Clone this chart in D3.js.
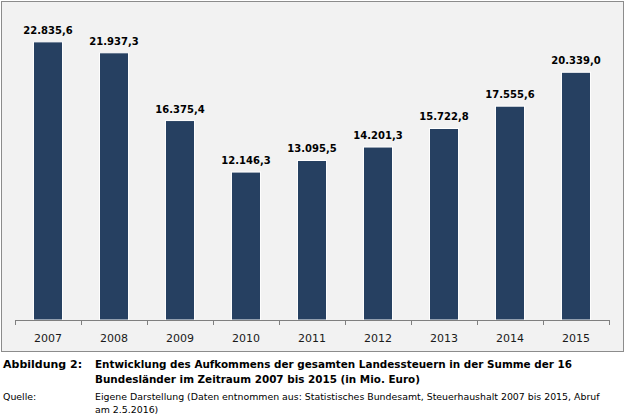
<!DOCTYPE html>
<html>
<head>
    <meta charset="utf-8">
    <title>Landessteuern 2007 bis 2015</title>
    <style>
        body { margin: 0; background: #fff; }
        text { font-family: "DejaVu Sans", Verdana, sans-serif; }
    </style>
</head>
<body>
<svg id="svg"></svg>
<script src="https://cdn.jsdelivr.net/npm/d3@7/dist/d3.min.js"></script>
<script>
    const years = ['2007', '2008', '2009', '2010', '2011', '2012', '2013', '2014', '2015']
    const values = [22835.6, 21937.3, 16375.4, 12146.3, 13095.5, 14201.3, 15722.8, 17555.6, 20339.0]

    const WIDTH = 626
    const HEIGHT = 419

    const svg = d3.select('svg')
        .attr('width', WIDTH)
        .attr('height', HEIGHT)

    // chart frame
    svg.append('rect')
        .attr('x', 1.5).attr('y', 1.5)
        .attr('width', 622).attr('height', 350)
        .attr('fill', '#f2f2f2')
        .attr('stroke', '#8c8c8c')
        .attr('stroke-width', 1)

    const x = d3.scaleBand()
        .domain(years)
        .range([15, 609])
        .paddingInner(0.56)
        .paddingOuter(0.28)

    const y = d3.scaleLinear()
        .domain([0, 25000])
        .range([320, 15.5])

    const fmt = (v) => {
        const s = v.toFixed(1).split('.')
        return s[0].replace(/\B(?=(\d{3})+(?!\d))/g, '.') + ',' + s[1]
    }

    svg.append('g')
        .selectAll('rect')
        .data(values)
        .enter().append('rect')
        .attr('x', (d, i) => x(years[i]))
        .attr('y', (d) => y(d))
        .attr('width', x.bandwidth())
        .attr('height', (d) => y(0) - y(d))
        .attr('fill', '#264061')
        .attr('stroke', '#ffffff')
        .attr('stroke-width', 1)

    svg.append('g')
        .selectAll('text')
        .data(values)
        .enter().append('text')
        .attr('x', (d, i) => x(years[i]) + x.bandwidth() / 2)
        .attr('y', (d) => y(d) - 8)
        .attr('text-anchor', 'middle')
        .attr('font-size', 10)
        .attr('font-weight', 'bold')
        .attr('fill', '#000')
        .text(fmt)

    // category axis, ticks sit between the bars
    const axis = svg.append('g')
        .attr('transform', 'translate(0,320)')
        .call(d3.axisBottom(x).tickSize(0).tickPadding(14))
    axis.select('.domain').remove()
    axis.selectAll('text')
        .attr('font-size', 11)
        .attr('font-family', '"DejaVu Sans", Verdana, sans-serif')
        .attr('fill', '#1a1a1a')

    const step = x.step()
    const bounds = years.map((yr) => x(yr) - (step - x.bandwidth()) / 2)
    bounds.push(bounds[bounds.length - 1] + step)

    svg.append('line')
        .attr('x1', bounds[0]).attr('x2', bounds[bounds.length - 1])
        .attr('y1', 320.5).attr('y2', 320.5)
        .attr('stroke', '#7f7f7f')
    svg.append('g')
        .selectAll('line')
        .data(bounds)
        .enter().append('line')
        .attr('x1', (d) => d + 0.5).attr('x2', (d) => d + 0.5)
        .attr('y1', 320).attr('y2', 325)
        .attr('stroke', '#7f7f7f')

    // caption
    const cap = svg.append('g').attr('font-weight', 'bold').attr('font-size', 10.4).attr('fill', '#000')
    cap.append('text').attr('x', 3).attr('y', 368).attr('font-size', 11).text('Abbildung 2:')
    cap.append('text').attr('x', 95).attr('y', 368)
        .text('Entwicklung des Aufkommens der gesamten Landessteuern in der Summe der 16')
    cap.append('text').attr('x', 95).attr('y', 383)
        .text('Bundesländer im Zeitraum 2007 bis 2015 (in Mio. Euro)')

    const src = svg.append('g').attr('font-size', 9.4).attr('fill', '#000')
    src.append('text').attr('x', 3).attr('y', 400).text('Quelle:')
    src.append('text').attr('x', 95).attr('y', 400)
        .text('Eigene Darstellung (Daten entnommen aus: Statistisches Bundesamt, Steuerhaushalt 2007 bis 2015, Abruf')
    src.append('text').attr('x', 95).attr('y', 413).text('am 2.5.2016)')
</script>
</body>
</html>
